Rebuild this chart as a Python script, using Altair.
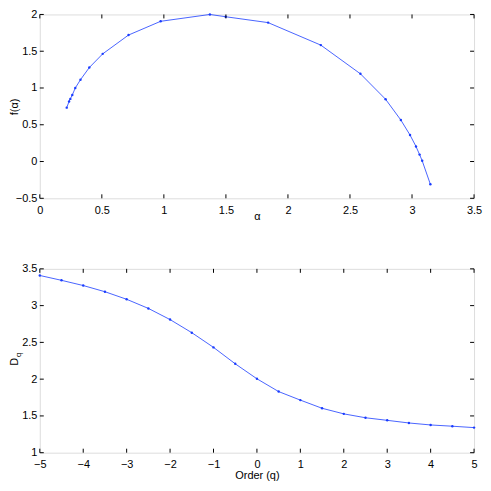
import altair as alt
import pandas as pd

# ---- data ----
alpha = [0.217, 0.236, 0.246, 0.262, 0.286, 0.328, 0.399, 0.507, 0.715, 0.974,
         1.371, 1.498, 1.84, 2.265, 2.584, 2.787, 2.91, 2.984, 3.032, 3.061, 3.082, 3.148]
f_alpha = [0.733, 0.817, 0.852, 0.905, 1.0, 1.113, 1.278, 1.464, 1.72, 1.907,
           2.0, 1.969, 1.889, 1.583, 1.193, 0.847, 0.564, 0.36, 0.205, 0.094, 0.01, -0.31]

q = [-5, -4.5, -4, -3.5, -3, -2.5, -2, -1.5, -1, -0.5, 0, 0.5, 1, 1.5, 2, 2.5, 3, 3.5, 4, 4.5, 5]
Dq = [3.41, 3.344, 3.273, 3.189, 3.086, 2.962, 2.81, 2.632, 2.432, 2.209, 2.005,
      1.831, 1.715, 1.604, 1.528, 1.475, 1.44, 1.404, 1.377, 1.36, 1.341]

top_xticks = [0, 0.5, 1, 1.5, 2, 2.5, 3, 3.5]
top_yticks = [-0.5, 0, 0.5, 1, 1.5, 2]
bot_xticks = [-5, -4, -3, -2, -1, 0, 1, 2, 3, 4, 5]
bot_yticks = [1, 1.5, 2, 2.5, 3, 3.5]

FONT = "Liberation Sans"
W, H = 437, 185
BLUE = "#1a3cff"
TK = 4


def panel(xs, ys, xdom, ydom, xt, yt, xtitle, ytitle, label_pad_x, title_y):
    df = pd.DataFrame({"x": xs, "y": ys})
    xs_ = alt.Scale(domain=xdom, nice=False, zero=False)
    ys_ = alt.Scale(domain=ydom, nice=False, zero=False)
    xaxis = alt.Axis(values=xt, title=xtitle, format="~g", ticks=False, tickSize=0, domain=False,
                     grid=False, labelPadding=label_pad_x, labelFontSize=11, labelFont=FONT,
                     labelColor="black", titleFont=FONT, titleFontSize=11, titleFontWeight="normal",
                     titleColor="black", titleY=title_y, labelFlush=False)
    yaxis = alt.Axis(values=yt, title=ytitle, format="~g", ticks=False, tickSize=0, domain=False,
                     grid=False, labelPadding=3, labelFontSize=11, labelFont=FONT,
                     labelColor="black", titleFont=FONT, titleFontSize=11, titleFontWeight="normal",
                     titleColor="black", titleX=-20)
    base = alt.Chart(df)
    line = base.mark_line(color=BLUE, strokeWidth=0.8).encode(
        x=alt.X("x:Q", scale=xs_, axis=xaxis), y=alt.Y("y:Q", scale=ys_, axis=yaxis))
    pts = base.mark_point(color=BLUE, filled=True, size=6, opacity=1).encode(
        x=alt.X("x:Q", scale=xs_, axis=xaxis), y=alt.Y("y:Q", scale=ys_, axis=yaxis))
    dx = pd.DataFrame({"x": xt})
    dy = pd.DataFrame({"y": yt})
    tx1 = alt.Chart(dx).mark_rule(color="black", strokeWidth=1).encode(
        x=alt.X("x:Q", scale=xs_, axis=xaxis), y=alt.value(H), y2=alt.value(H - TK))
    tx2 = alt.Chart(dx).mark_rule(color="black", strokeWidth=1).encode(
        x=alt.X("x:Q", scale=xs_, axis=xaxis), y=alt.value(0), y2=alt.value(TK))
    ty1 = alt.Chart(dy).mark_rule(color="black", strokeWidth=1).encode(
        y=alt.Y("y:Q", scale=ys_, axis=yaxis), x=alt.value(0), x2=alt.value(TK))
    ty2 = alt.Chart(dy).mark_rule(color="black", strokeWidth=1).encode(
        y=alt.Y("y:Q", scale=ys_, axis=yaxis), x=alt.value(W), x2=alt.value(W - TK))
    return [line, pts, tx1, tx2, ty1, ty2]


top_layers = panel(alpha, f_alpha, [0, 3.5], [-0.5, 2], top_xticks, top_yticks,
                   "α", "f(α)", 6, 12)
top = alt.layer(*top_layers).properties(width=W, height=H)

bot_layers = panel(q, Dq, [-5, 5], [1, 3.5], bot_xticks, bot_yticks,
                   "Order (q)", " ", 6, 17)
dtxt = alt.Chart(pd.DataFrame({"t": ["D"]})).mark_text(
    font=FONT, fontSize=11, angle=270, align="center", baseline="middle", color="black").encode(
    text="t:N", x=alt.value(-25), y=alt.value(H / 2 + 1))
qtxt = alt.Chart(pd.DataFrame({"t": ["q"]})).mark_text(
    font=FONT, fontSize=8, angle=270, align="center", baseline="middle", color="black").encode(
    text="t:N", x=alt.value(-20.5), y=alt.value(H / 2 - 6))
bottom = alt.layer(*bot_layers, dtxt, qtxt).properties(width=W, height=H)

chart = alt.vconcat(top, bottom, spacing=40).properties(
    padding={"left": 0, "top": -2, "right": 0, "bottom": 0}
).configure_view(stroke="black", strokeWidth=1).configure(background="white")

chart.save("out.html", embed_options={"renderer": "svg", "actions": False})
